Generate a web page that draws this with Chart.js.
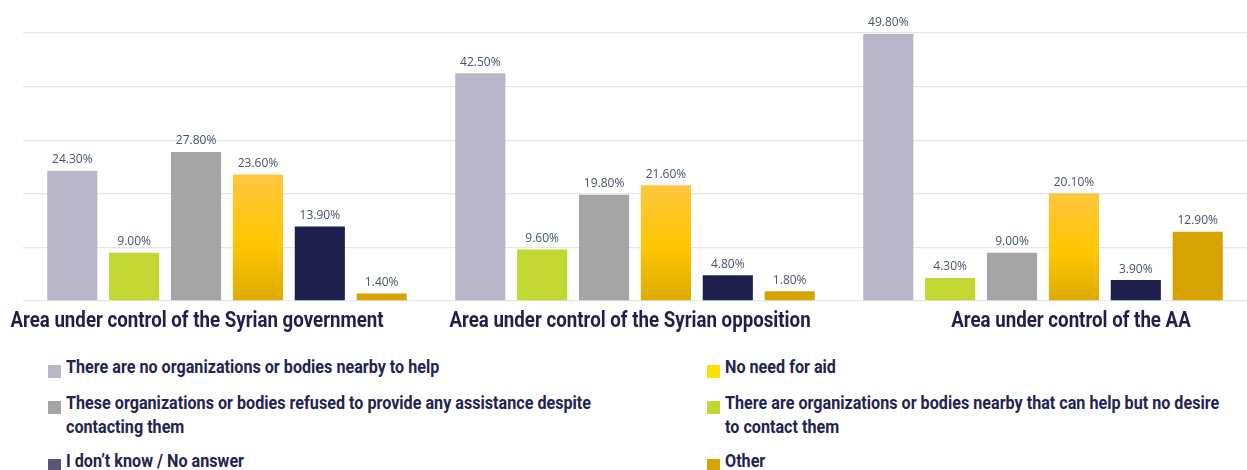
<!DOCTYPE html>
<html lang="en">
<head>
    <meta charset="UTF-8">
    <title>Reasons for not seeking aid by area of control</title>
    <script src="https://cdn.jsdelivr.net/npm/chart.js"></script>
    <style>
        body { margin: 0; width: 1247px; height: 470px; background: #fff; overflow: hidden; }
        #wrap { position: relative; width: 1247px; height: 340px; }
        #legend {
            position: absolute; left: 0; top: 355px; width: 1247px;
            font-family: Roboto, 'Liberation Sans', sans-serif;
            font-weight: bold; font-size: 19px; line-height: 24px; color: #23234f;
        }
        .item { position: absolute; display: flex; align-items: flex-start; }
        .box { width: 13px; height: 13px; margin-top: 10px; margin-right: 5px; flex: none; }
        .txt { white-space: nowrap; transform: scaleX(0.85); transform-origin: 0 0; }
    </style>
</head>
<body>
    <div id="wrap"><canvas id="chart" width="1247" height="340"></canvas></div>
    <div id="legend"></div>
    <script>
        // areas (x categories)
        const areas = [
            'Area under control of the Syrian government',
            'Area under control of the Syrian opposition',
            'Area under control of the AA'
        ];

        // series names, in bar order
        const reasons = [
            ['There are no organizations or bodies nearby to help'],
            ['There are organizations or bodies nearby that can help but no desire', 'to contact them'],
            ['These organizations or bodies refused to provide any assistance despite', 'contacting them'],
            ['No need for aid'],
            ['I don\u2019t know / No answer'],
            ['Other']
        ];

        // values in % per area
        const noOrgs    = [24.3, 42.5, 49.8];
        const noDesire  = [9.0, 9.6, 4.3];
        const refused   = [27.8, 19.8, 9.0];
        const noNeed    = [23.6, 21.6, 20.1];
        const dontKnow  = [13.9, 4.8, 3.9];
        const other     = [1.4, 1.8, 12.9];

        const barColors = ['#b9b6c9', '#c1d832', '#a5a5a5', 'gradient', '#1f1f4c', '#d6a300'];
        const legendColors = ['#b9b6c9', '#c1d832', '#a5a5a5', '#ffde00', '#5a5478', '#d6a300'];
        // legend reading order: left column / right column, row by row
        const legendOrder = [0, 3, 2, 1, 4, 5];

        const seriesValues = [noOrgs, noDesire, refused, noNeed, dontKnow, other];

        function yellowFill(context) {
            const chart = context.chart;
            const y = chart.scales.y;
            if (!chart.chartArea || !y || context.raw == null) return '#ffc600';
            const top = y.getPixelForValue(context.raw);
            const bottom = y.getPixelForValue(0);
            if (!(bottom > top)) return '#ffc600';
            const g = chart.ctx.createLinearGradient(0, top, 0, bottom);
            g.addColorStop(0, '#ffc63f');
            g.addColorStop(0.55, '#ffc600');
            g.addColorStop(1, '#dcab00');
            return g;
        }

        // value labels above bars
        const valueLabels = {
            id: 'valueLabels',
            afterDatasetsDraw(chart) {
                const ctx = chart.ctx;
                ctx.save();
                ctx.font = '12px "Open Sans", sans-serif';
                ctx.fillStyle = '#44546a';
                ctx.textAlign = 'center';
                ctx.textBaseline = 'bottom';
                chart.data.datasets.forEach((ds, i) => {
                    chart.getDatasetMeta(i).data.forEach((bar, j) => {
                        ctx.fillText(ds.data[j].toFixed(2) + '%', bar.x, bar.y - 5);
                    });
                });
                ctx.restore();
            }
        };

        // condensed bold area names under the groups
        const areaLabels = {
            id: 'areaLabels',
            afterDraw(chart) {
                const ctx = chart.ctx;
                const x = chart.scales.x;
                const shift = [-30, -5, 28];
                ctx.save();
                ctx.font = 'bold 22px Roboto, "Liberation Sans", sans-serif';
                ctx.fillStyle = '#1f1f4c';
                ctx.textAlign = 'center';
                ctx.textBaseline = 'alphabetic';
                chart.data.labels.forEach((lbl, i) => {
                    ctx.save();
                    ctx.translate(x.getPixelForValue(i) + shift[i], chart.chartArea.bottom + 26);
                    ctx.scale(0.85, 1);
                    ctx.fillText(lbl, 0, 0);
                    ctx.restore();
                });
                ctx.restore();
            }
        };

        new Chart(document.getElementById('chart'), {
            type: 'bar',
            data: {
                labels: areas,
                datasets: seriesValues.map((vals, i) => ({
                    label: reasons[i].join(' '),
                    data: vals,
                    backgroundColor: barColors[i] === 'gradient' ? yellowFill : barColors[i],
                    categoryPercentage: 0.91,
                    barPercentage: 0.81
                }))
            },
            options: {
                responsive: false,
                animation: false,
                layout: { padding: { top: 33, left: 23, right: 0, bottom: 31 } },
                scales: {
                    x: {
                        grid: { display: false },
                        border: { display: false },
                        ticks: { display: false }
                    },
                    y: {
                        min: 0,
                        max: 50,
                        ticks: { display: false, stepSize: 10 },
                        border: { display: false },
                        grid: { color: '#e4e6ee', lineWidth: 1.3, drawTicks: false }
                    }
                },
                plugins: {
                    legend: { display: false },
                    tooltip: { enabled: false }
                }
            },
            plugins: [valueLabels, areaLabels]
        });

        // html legend in two columns
        const legendEl = document.getElementById('legend');
        const rowTops = [0, 36, 94];
        legendOrder.forEach((si, k) => {
            const item = document.createElement('div');
            item.className = 'item';
            item.style.left = (k % 2 === 0 ? 48 : 707) + 'px';
            item.style.top = rowTops[Math.floor(k / 2)] + 'px';
            const box = document.createElement('span');
            box.className = 'box';
            box.style.background = legendColors[si];
            const txt = document.createElement('span');
            txt.className = 'txt';
            txt.innerHTML = reasons[si].join('<br>');
            item.appendChild(box);
            item.appendChild(txt);
            legendEl.appendChild(item);
        });
    </script>
</body>
</html>
